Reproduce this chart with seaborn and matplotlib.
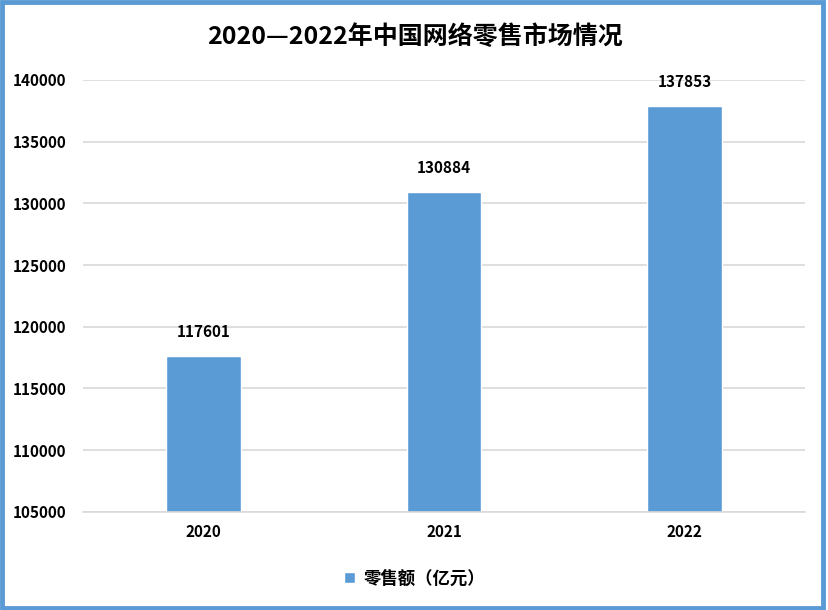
import matplotlib
matplotlib.use('Agg')
import matplotlib.pyplot as plt
from matplotlib.patches import Rectangle
import seaborn as sns
import pandas as pd

years = ['2020', '2021', '2022']
sales = [117601, 130884, 137853]
series_name = '零售额（亿元）'
title = '2020—2022年中国网络零售市场情况'

sns.set_theme(style='white')
plt.rcParams['font.family'] = ['Noto Sans CJK SC', 'DejaVu Sans']
plt.rcParams['font.weight'] = 'bold'
plt.rcParams['text.color'] = 'black'

df = pd.DataFrame({'year': years, 'sales': sales, 'series': series_name})

fig = plt.figure(figsize=(8.29, 6.10), dpi=100)
ax = fig.add_axes([0.1001, 0.161, 0.8709, 0.708])

sns.barplot(data=df, x='year', y='sales', hue='series', palette=['#5B9BD5'],
            saturation=1, width=0.31, ax=ax, legend=True)

ax.set_ylim(105000, 140000)
ax.set_xlim(-0.5, 2.5)
ax.set_yticks(range(105000, 140001, 5000))
ax.yaxis.grid(True, color='#D9D9D9', linewidth=1.2)
ax.set_axisbelow(True)
for s in ['top', 'right', 'left']:
    ax.spines[s].set_visible(False)
ax.spines['bottom'].set_color('#D9D9D9')
ax.spines['bottom'].set_linewidth(1.2)
ax.tick_params(axis='both', length=0, labelsize=11, colors='black')
ax.tick_params(axis='x', pad=9)
ax.tick_params(axis='y', pad=12)
for lab in ax.get_xticklabels() + ax.get_yticklabels():
    lab.set_fontweight('bold')
ax.set_xlabel('')
ax.set_ylabel('')

for i, v in enumerate(sales):
    ax.annotate(str(v), (i, v), xytext=(0, 12), textcoords='offset points',
                ha='center', va='bottom', fontsize=11, fontweight='bold', color='black')

fig.text(0.5, 0.94, title, ha='center', va='center', fontsize=18, fontweight='bold',
         color='black')

leg = ax.legend(loc='center', frameon=False, fontsize=12.5, handlelength=0.6,
                handleheight=0.6, handletextpad=0.5)
for t in leg.get_texts():
    t.set_fontweight('bold')
    t.set_color('black')
leg.set_bbox_to_anchor((0.5, 0.052), transform=fig.transFigure)

fig.patches.append(Rectangle((0.002, 0.003), 0.991, 0.993, transform=fig.transFigure,
                             fill=False, edgecolor='#5B9BD5', linewidth=3.5))

fig.savefig('out.png', dpi=100)
